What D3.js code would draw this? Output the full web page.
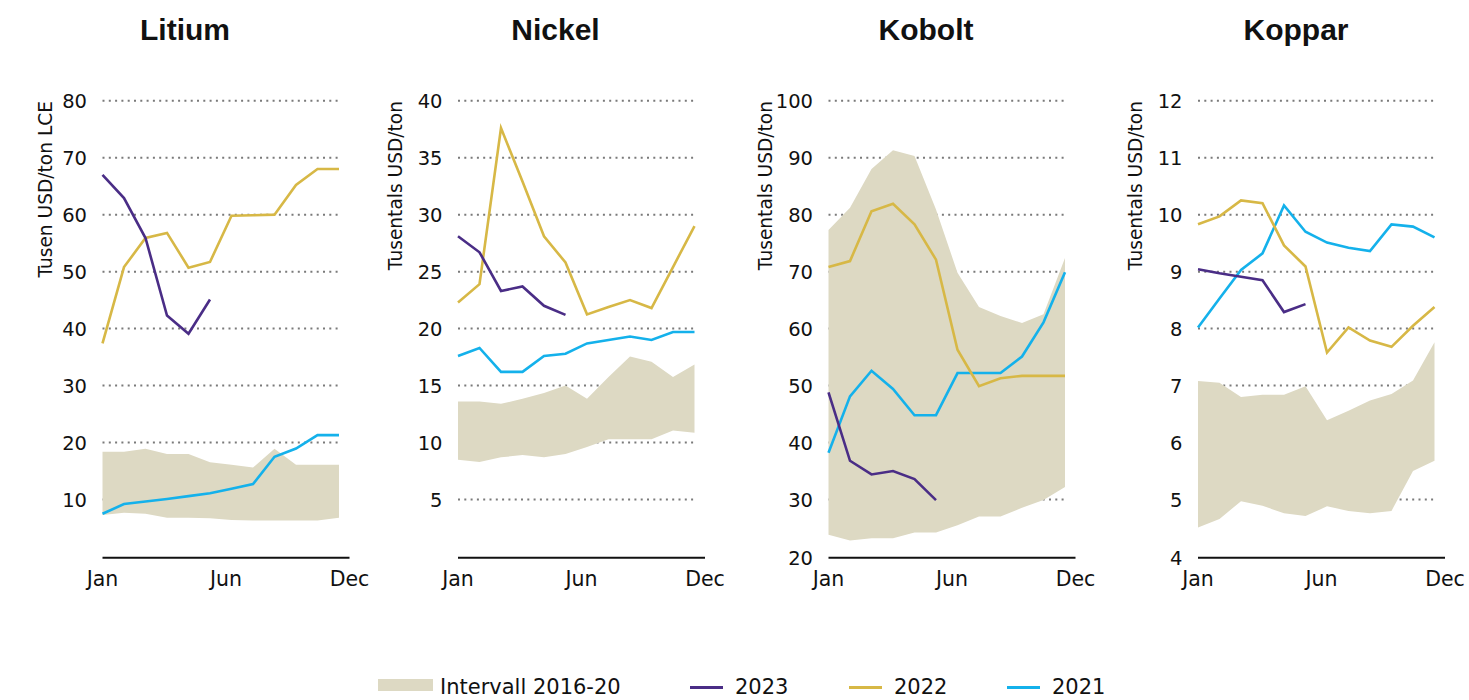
<!DOCTYPE html>
<html>
<head>
<meta charset="utf-8">
<script src="https://cdn.jsdelivr.net/npm/d3@7"></script>
<style>
  html, body { margin: 0; padding: 0; background: #ffffff; }
  svg { display: block; }
</style>
</head>
<body>
<svg id="chart" width="1469" height="700"></svg>
<script>
// ---------- DATA ----------
const metals = ["Litium", "Nickel", "Kobolt", "Koppar"];
const yTitles = ["Tusen USD/ton LCE", "Tusentals USD/ton", "Tusentals USD/ton", "Tusentals USD/ton"];
const xTickLabels = ["Jan", "Jun", "Dec"];
const monthIdx = [0, 1, 2, 3, 4, 5, 6, 7, 8, 9, 10, 11];

const litDomain = [0, 80];
const litTicks = [10, 20, 30, 40, 50, 60, 70, 80];
const lit2023 = [67, 62.9, 55.9, 42.3, 39.1, 45.1];
const lit2022 = [37.4, 50.8, 55.9, 56.8, 50.7, 51.7, 59.8, 59.9, 60.0, 65.2, 68.0, 68.0];
const lit2021 = [7.5, 9.2, 9.65, 10.1, 10.6, 11.1, 11.9, 12.7, 17.5, 18.95, 21.3, 21.3];
const litLow  = [7.3, 7.7, 7.5, 6.8, 6.8, 6.7, 6.4, 6.3, 6.3, 6.3, 6.3, 6.8];
const litHigh = [18.4, 18.4, 18.9, 18.0, 18.0, 16.55, 16.1, 15.6, 18.9, 16.1, 16.1, 16.1];

const niDomain = [0, 40];
const niTicks = [5, 10, 15, 20, 25, 30, 35, 40];
const ni2023 = [28.1, 26.7, 23.3, 23.7, 22.0, 21.2];
const ni2022 = [22.3, 23.9, 37.6, 32.9, 28.1, 25.8, 21.25, 21.9, 22.5, 21.8, 25.4, 29.0];
const ni2021 = [17.6, 18.3, 16.2, 16.2, 17.6, 17.8, 18.7, 19.0, 19.3, 19.0, 19.7, 19.7];
const niLow  = [8.5, 8.3, 8.7, 8.9, 8.7, 9.0, 9.6, 10.3, 10.3, 10.3, 11.05, 10.85];
const niHigh = [13.6, 13.6, 13.4, 13.85, 14.35, 15.0, 13.85, 15.75, 17.55, 17.1, 15.75, 16.85];

const coDomain = [20, 100];
const coTicks = [20, 30, 40, 50, 60, 70, 80, 90, 100];
const co2023 = [48.8, 36.8, 34.4, 35.0, 33.6, 29.9];
const co2022 = [70.8, 71.85, 80.6, 81.9, 78.3, 72.1, 56.3, 49.9, 51.3, 51.7, 51.7, 51.7];
const co2021 = [38.2, 48.1, 52.6, 49.4, 44.8, 44.8, 52.2, 52.2, 52.2, 55.1, 61.1, 69.9];
const coLow  = [23.8, 22.8, 23.2, 23.2, 24.2, 24.2, 25.5, 27.0, 27.0, 28.55, 29.9, 32.2];
const coHigh = [77.3, 81.2, 88.0, 91.3, 90.3, 80.9, 69.8, 63.8, 62.2, 61.0, 62.5, 72.4];

const cuDomain = [4, 12];
const cuTicks = [4, 5, 6, 7, 8, 9, 10, 11, 12];
const cu2023 = [9.04, 8.97, 8.91, 8.85, 8.29, 8.43];
const cu2022 = [9.83, 9.97, 10.25, 10.2, 9.46, 9.09, 7.58, 8.02, 7.79, 7.68, 8.05, 8.38];
const cu2021 = [8.02, 8.53, 9.03, 9.32, 10.16, 9.70, 9.51, 9.42, 9.36, 9.83, 9.79, 9.60];
const cuLow  = [4.51, 4.66, 4.97, 4.89, 4.76, 4.71, 4.88, 4.80, 4.76, 4.80, 5.50, 5.68];
const cuHigh = [7.08, 7.05, 6.80, 6.84, 6.84, 6.99, 6.39, 6.56, 6.74, 6.85, 7.09, 7.76];

const legendLabels = ["Intervall 2016-20", "2023", "2022", "2021"];

// ---------- STYLE / LAYOUT ----------
const COLORS = { band: "#ddd9c3", y2023: "#4a2d86", y2022: "#d7b846", y2021: "#14b1eb", grid: "#7a7a7a", axis: "#111111", text: "#111111" };
const FONT = "'DejaVu Sans', sans-serif";
const panelX0 = [102.5, 458, 828.5, 1198];
const titleCX = [185, 555.5, 926, 1296];
const yTitleX = [51.5, 401.5, 771.5, 1141.5];
const dataW = 236.5, axisW = 247;
const yTop = 100.7, yBottom = 556.5, axisY = 557.7;

const panels = [
  { domain: litDomain, ticks: litTicks, s23: lit2023, s22: lit2022, s21: lit2021, lo: litLow, hi: litHigh },
  { domain: niDomain, ticks: niTicks, s23: ni2023, s22: ni2022, s21: ni2021, lo: niLow, hi: niHigh },
  { domain: coDomain, ticks: coTicks, s23: co2023, s22: co2022, s21: co2021, lo: coLow, hi: coHigh },
  { domain: cuDomain, ticks: cuTicks, s23: cu2023, s22: cu2022, s21: cu2021, lo: cuLow, hi: cuHigh }
];

const svg = d3.select("#chart");

panels.forEach((p, i) => {
  const x0 = panelX0[i];
  const x = d3.scaleLinear().domain([0, 11]).range([x0, x0 + dataW]);
  const xl = d3.scalePoint().domain(xTickLabels).range([x0, x0 + axisW]);
  const y = d3.scaleLinear().domain(p.domain).range([yBottom, yTop]);
  const g = svg.append("g");

  // title
  g.append("text").attr("x", titleCX[i]).attr("y", 40)
    .attr("text-anchor", "middle")
    .attr("font-family", "'Liberation Sans', Arial, sans-serif")
    .attr("font-weight", "bold").attr("font-size", 30)
    .attr("fill", COLORS.text).text(metals[i]);

  // y axis title
  g.append("text")
    .attr("transform", `translate(${yTitleX[i]},101) rotate(-90)`)
    .attr("text-anchor", "end")
    .attr("font-family", FONT).attr("font-size", 18.6)
    .attr("fill", COLORS.text).text(yTitles[i]);

  // gridlines
  g.append("g").selectAll("line").data(p.ticks.filter(t => t !== p.domain[0])).join("line")
    .attr("x1", x(0)).attr("x2", x(11))
    .attr("y1", d => y(d)).attr("y2", d => y(d))
    .attr("stroke", COLORS.grid).attr("stroke-width", 2)
    .attr("stroke-dasharray", "2,4.3");

  // y tick labels
  g.append("g").selectAll("text").data(p.ticks.filter(t => t !== 0)).join("text")
    .attr("x", x0 - 15.5).attr("y", d => d === p.domain[0] ? axisY : y(d))
    .attr("dy", "0.36em")
    .attr("text-anchor", "end")
    .attr("font-family", FONT).attr("font-size", 19.5)
    .attr("fill", COLORS.text).text(d => d);

  // band
  const area = d3.area().x(d => x(d)).y0(d => y(p.lo[d])).y1(d => y(p.hi[d]));
  g.append("path").datum(monthIdx).attr("d", area).attr("fill", COLORS.band);

  // lines
  const line = arr => d3.line().x((d, j) => x(j)).y(d => y(d))(arr);
  [[p.s21, COLORS.y2021], [p.s22, COLORS.y2022], [p.s23, COLORS.y2023]].forEach(([arr, c]) => {
    g.append("path").attr("d", line(arr)).attr("fill", "none")
      .attr("stroke", c).attr("stroke-width", 2.6)
      .attr("stroke-linejoin", "miter").attr("stroke-linecap", "butt");
  });

  // x axis line
  g.append("line").attr("x1", x0).attr("x2", x0 + axisW)
    .attr("y1", axisY).attr("y2", axisY)
    .attr("stroke", COLORS.axis).attr("stroke-width", 2);

  // x labels
  g.append("g").selectAll("text").data(xTickLabels).join("text")
    .attr("x", d => xl(d)).attr("y", 586)
    .attr("text-anchor", "middle")
    .attr("font-family", FONT).attr("font-size", 20.5)
    .attr("fill", COLORS.text).text(d => d);
});

// ---------- LEGEND ----------
const lg = svg.append("g");
lg.append("rect").attr("x", 378).attr("y", 679).attr("width", 55).attr("height", 12).attr("fill", COLORS.band);
const legendItems = [
  { label: legendLabels[0], tx: 440 },
  { label: legendLabels[1], lx: 690, tx: 735, color: COLORS.y2023 },
  { label: legendLabels[2], lx: 849, tx: 894, color: COLORS.y2022 },
  { label: legendLabels[3], lx: 1007, tx: 1052, color: COLORS.y2021 }
];
legendItems.forEach(it => {
  if (it.color) {
    lg.append("line").attr("x1", it.lx).attr("x2", it.lx + 33)
      .attr("y1", 687.5).attr("y2", 687.5)
      .attr("stroke", it.color).attr("stroke-width", 3);
  }
  lg.append("text").attr("x", it.tx).attr("y", 693.5)
    .attr("font-family", FONT).attr("font-size", 21)
    .attr("fill", COLORS.text).text(it.label);
});
</script>
</body>
</html>
